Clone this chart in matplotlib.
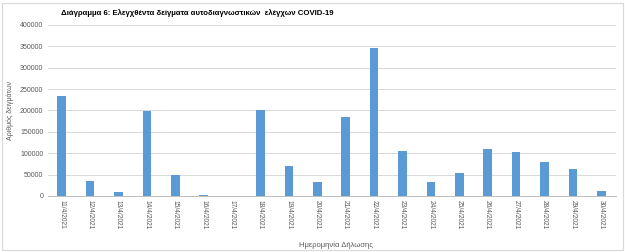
import matplotlib
matplotlib.use("Agg")
import matplotlib.pyplot as plt
from matplotlib.patches import Rectangle

plt.rcParams['font.family'] = ['Liberation Sans', 'DejaVu Sans']

dates = ["11/4/2021", "12/4/2021", "13/4/2021", "14/4/2021", "15/4/2021",
         "16/4/2021", "17/4/2021", "18/4/2021", "19/4/2021", "20/4/2021",
         "21/4/2021", "22/4/2021", "23/4/2021", "24/4/2021", "25/4/2021",
         "26/4/2021", "27/4/2021", "28/4/2021", "29/4/2021", "30/4/2021"]
samples = [234000, 35000, 8600, 198500, 48500,
           2500, 1000, 201000, 71000, 33700,
           185000, 346000, 104700, 32800, 54700,
           109400, 103100, 79700, 63300, 11700]
yticks = [0, 50000, 100000, 150000, 200000, 250000, 300000, 350000, 400000]

W, H = 625, 252
fig = plt.figure(figsize=(W / 100, H / 100), dpi=100)
fig.patches.append(Rectangle((2 / W, 2 / H), 1 - 4 / W, 1 - 5 / H, transform=fig.transFigure,
                             fill=False, edgecolor="#D9D9D9", linewidth=0.8))

ax = fig.add_axes([47.5 / W, 1 - 196 / H, 568 / W, 171 / H])
x = range(len(dates))
ax.bar(x, samples, width=0.3, color="#5B9BD5", zorder=3)
ax.set_xlim(-0.5, len(dates) - 0.5)
ax.set_ylim(0, 400000)
ax.set_yticks(yticks)
ax.set_yticklabels([str(v) for v in yticks], fontsize=5, color="#595959")
ax.set_xticks(list(x))
ax.set_xticklabels(dates, rotation=270, fontsize=4.8, color="#595959")
ax.tick_params(axis="both", length=0, pad=3)
ax.grid(axis="y", color="#D9D9D9", linewidth=0.7, zorder=0)
for s in ["top", "right", "left"]:
    ax.spines[s].set_visible(False)
ax.spines["bottom"].set_color("#BFBFBF")
ax.spines["bottom"].set_linewidth(0.7)

ax.set_ylabel("Αριθμός δειγμάτων", fontsize=5, color="#595959", labelpad=4)
fig.text(336 / W, 1 - 245 / H, "Ημερομηνία Δήλωσης", fontsize=5.5, color="#595959",
         ha="center", va="center")
fig.text(61 / W, 1 - 13.5 / H, "Διάγραμμα 6: Ελεγχθέντα δείγματα αυτοδιαγνωστικών  ελέγχων COVID-19",
         fontsize=5.6, fontweight="bold", color="#000000", ha="left", va="center",
         family=['Liberation Sans Narrow', 'Liberation Sans', 'DejaVu Sans'])

fig.savefig("out.png", dpi=100)
